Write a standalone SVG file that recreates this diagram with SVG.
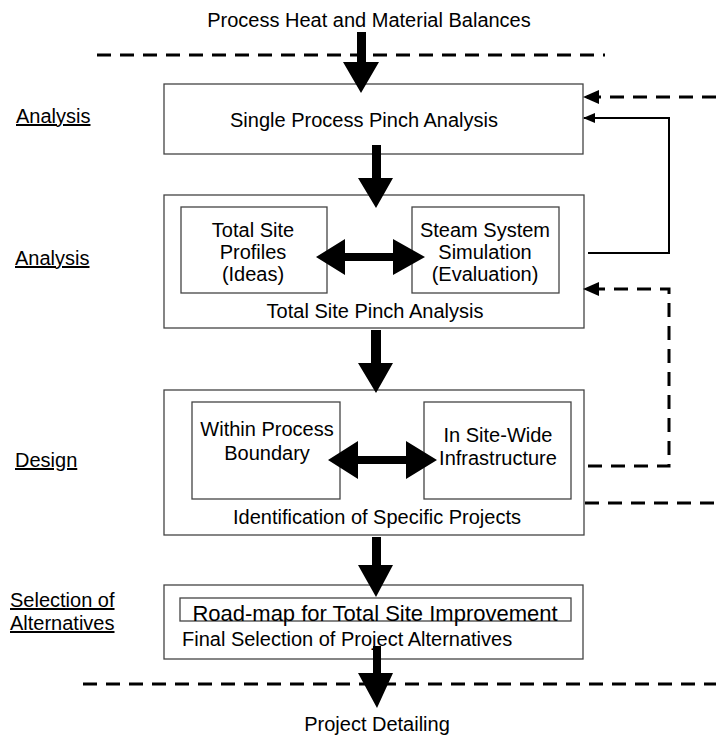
<svg xmlns="http://www.w3.org/2000/svg" width="716" height="736" viewBox="0 0 716 736">
<defs>
<marker id="dh" markerWidth="16" markerHeight="16" refX="15" refY="8" orient="auto" markerUnits="userSpaceOnUse"><path d="M0,1 L16,8 L0,15 Z" fill="#000"/></marker>
<marker id="sh" markerWidth="12" markerHeight="12" refX="11" refY="6" orient="auto" markerUnits="userSpaceOnUse"><path d="M0,1 L12,6 L0,11 Z" fill="#000"/></marker>
</defs>
<style>
text{font-family:"Liberation Sans",Arial,sans-serif;font-size:20px;fill:#000}
.box{fill:#fff;stroke:#444;stroke-width:1.3}
.in{fill:#fff;stroke:#444;stroke-width:1.3}
.dash{fill:none;stroke:#000;stroke-width:3;stroke-dasharray:14 9}
.solid{fill:none;stroke:#000;stroke-width:2}
.arr{fill:#000}
.lab{text-decoration:underline}
.c{text-anchor:middle}
</style>
<g id="phases">
<text x="16" y="123" class="lab">Analysis</text>
<text x="15" y="265" class="lab">Analysis</text>
<text x="15" y="467" class="lab">Design</text>
<text x="10" y="607" class="lab">Selection of</text>
<text x="10" y="630" class="lab">Alternatives</text>
</g>
<g id="input"><text x="369" y="27" class="c">Process Heat and Material Balances</text></g>
<g id="boundaries">
<line x1="97" y1="55" x2="605" y2="55" class="dash"/>
<line x1="83" y1="684" x2="716" y2="684" class="dash"/>
</g>
<g id="box1">
<rect x="164" y="84" width="419" height="70" class="box"/>
<text x="364" y="127" class="c">Single Process Pinch Analysis</text>
</g>
<g id="box2">
<rect x="164" y="195" width="420" height="133" class="box"/>
<rect x="181" y="207" width="146" height="86" class="in"/>
<rect x="412" y="207" width="147" height="86" class="in"/>
<text x="253" y="237" class="c">Total Site</text>
<text x="253" y="259" class="c">Profiles</text>
<text x="253" y="281" class="c">(Ideas)</text>
<text x="485" y="237" class="c">Steam System</text>
<text x="485" y="259" class="c">Simulation</text>
<text x="485" y="281" class="c">(Evaluation)</text>
<text x="375" y="318" class="c">Total Site Pinch Analysis</text>
</g>
<g id="box3">
<rect x="164" y="390" width="420" height="145" class="box"/>
<rect x="192" y="402" width="148" height="97" class="in"/>
<rect x="424" y="402" width="147" height="97" class="in"/>
<text x="267" y="436" class="c">Within Process</text>
<text x="267" y="460" class="c">Boundary</text>
<text x="498" y="442" class="c">In Site-Wide</text>
<text x="498" y="465" class="c">Infrastructure</text>
<text x="377" y="524" class="c">Identification of Specific Projects</text>
</g>
<g id="box4">
<rect x="164" y="585" width="419" height="74" class="box"/>
<rect x="180" y="598" width="391" height="23" class="in"/>
<text x="375" y="621" class="c" style="font-size:22px">Road-map for Total Site Improvement</text>
<text x="182" y="646">Final Selection of Project Alternatives</text>
</g>
<g id="output"><text x="377" y="731" class="c">Project Detailing</text></g>
<g id="connectors">
<path d="M357,32 H366 V62 H379 L361,93 L343,62 H357 Z" class="arr"/>
<path d="M372,145 H381 V178 H393 L376,208 L358,178 H372 Z" class="arr"/>
<path d="M371,330 H381 V363 H393 L376,393 L358,363 H371 Z" class="arr"/>
<path d="M372,537 H381 V565 H393 L376,597 L358,565 H372 Z" class="arr"/>
<path d="M373,646 H381 V673 H393 L377,708 L358,673 H373 Z" class="arr"/>
<path d="M316,257 L345,239 V253 H393 V239 L425,257 L393,275 V261 H345 V275 Z" class="arr"/>
<path d="M328,460 L358,441 V456 H406 V441 L437,460 L406,479 V464 H358 V479 Z" class="arr"/>
<path d="M716,97 H584" class="dash" marker-end="url(#dh)"/>
<path d="M588,253 H669 V118 H584" class="solid" marker-end="url(#sh)"/>
<path d="M588,466 H669 V289 H584" class="dash" marker-end="url(#dh)"/>
<line x1="585" y1="503" x2="716" y2="503" class="dash"/>
</g>
</svg>
